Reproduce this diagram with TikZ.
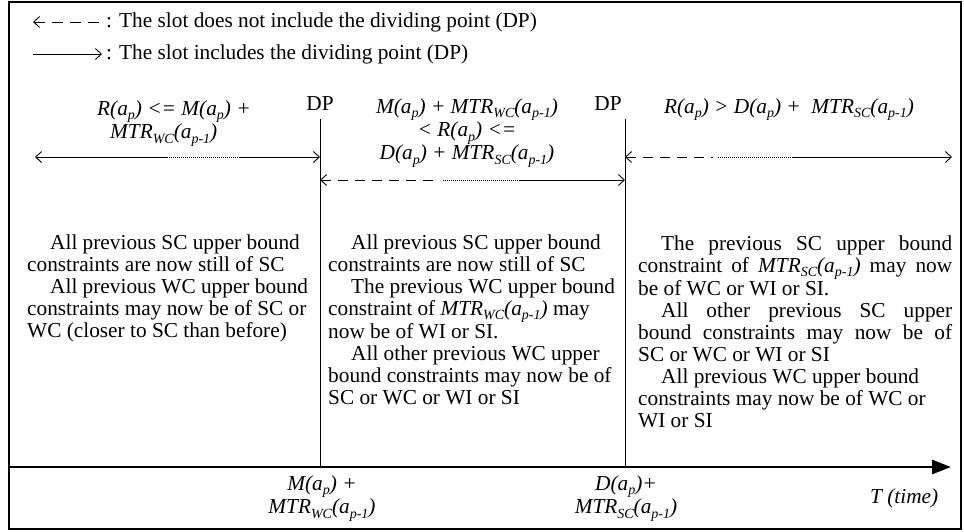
\documentclass[tikz,border=0pt]{standalone}
\usepackage{fontspec}
\setmainfont{Liberation Serif}
\usetikzlibrary{arrows.meta}
\newcommand{\sbs}[1]{\raisebox{-0.22em}{\fontsize{14}{14}\selectfont #1}}
\newcommand{\ap}{a\sbs{p}}
\newcommand{\apm}{a\sbs{p-1}}
\newcommand{\ind}{\hspace*{23pt}}
\newcommand{\jl}[1]{\makebox[\linewidth][s]{#1}}
\begin{document}
\begin{tikzpicture}[x=1pt,y=-1pt,
  every node/.style={inner sep=0pt, font=\fontsize{21.3}{22}\selectfont},
  thinline/.style={line width=0.9pt},
  barbL/.style={thinline, {Straight Barb[length=6pt,width=11pt]}-},
  barbR/.style={thinline, -{Straight Barb[length=6pt,width=11pt]}},
  dashseg/.style={thinline, dash pattern=on 10pt off 7pt},
  dotseg/.style={thinline, dash pattern=on 1pt off 1pt},
  axisline/.style={line width=2.7pt, -{Triangle[length=19pt,width=14pt]}},
  frameline/.style={line width=1.3pt},
  dpline/.style={line width=1pt}]
\useasboundingbox (0,0) rectangle (964,531);
\draw[frameline] (9,2) rectangle (961,529);

% legend
\coordinate (l1a) at (33,22); \coordinate (l1b) at (102,22);
\coordinate (l2a) at (33,54); \coordinate (l2b) at (102,54);
\draw[barbL, dash pattern=on 11pt off 7pt] (l1a) -- (l1b);
\draw[barbR] (l2a) -- (l2b);
\node[anchor=base west] (leg1) at (106,27) {: The slot does not include the dividing point (DP)};
\node[anchor=base west] (leg2) at (106,59) {: The slot includes the dividing point (DP)};

% DP labels and lines
\node[anchor=base] (dp1) at (320,110) {DP};
\node[anchor=base] (dp2) at (608,110) {DP};
\coordinate (v1t) at (320,119); \coordinate (v1b) at (320,467);
\coordinate (v2t) at (625,119); \coordinate (v2b) at (625,467);
\draw[dpline] (v1t) -- (v1b);
\draw[dpline] (v2t) -- (v2b);

% axis
\coordinate (ax0) at (9,467); \coordinate (ax1) at (951,467);
\draw[axisline] (ax0) -- (ax1);

% top annotations
\node[anchor=base west] (ann1) at (97,115) {\parbox[t]{220pt}{\fontsize{21.3}{21.5}\selectfont\raggedright
  \textit{R(\ap) <= M(\ap) +}\\\hspace*{13pt}\textit{MTR\sbs{WC}(\apm)}}};
\node[anchor=base] (ann2) at (467,113) {\parbox[t]{260pt}{\fontsize{21.3}{19.5}\selectfont\centering
  \textit{M(\ap) + MTR\sbs{WC}(\apm)}\\\textit{< R(\ap) <=}\\\textit{D(\ap) + MTR\sbs{SC}(\apm)}}};
\node[anchor=base] (ann3) at (789,113) {\textit{R(\ap) > D(\ap) +\ \ MTR\sbs{SC}(\apm)}};

% slot arrow 1
\coordinate (s1a) at (35,157); \coordinate (s1b) at (167,157);
\coordinate (s1c) at (240,157); \coordinate (s1d) at (320,157);
\draw[barbL] (s1a) -- (s1b);
\draw[dotseg] (s1b) -- (s1c);
\draw[barbR] (s1c) -- (s1d);
% slot arrow 2
\coordinate (s2a) at (320,180); \coordinate (s2b) at (440,180);
\coordinate (s2c) at (443,180); \coordinate (s2d) at (520,180);
\coordinate (s2e) at (625,180);
\draw[barbL, dash pattern=on 10pt off 7pt] (s2a) -- (s2b);
\draw[dotseg] (s2c) -- (s2d);
\draw[barbR] (s2d) -- (s2e);
% slot arrow 3
\coordinate (s3a) at (625,157); \coordinate (s3b) at (713,157);
\coordinate (s3c) at (718,157); \coordinate (s3d) at (793,157);
\coordinate (s3e) at (952,157);
\draw[barbL, dash pattern=on 10pt off 7pt] (s3a) -- (s3b);
\draw[dotseg] (s3c) -- (s3d);
\draw[barbR] (s3d) -- (s3e);

% column texts
\node[anchor=base west] (col1) at (27,249) {\parbox[t]{300pt}{\fontsize{21.3}{22}\selectfont\raggedright
\ind All previous SC upper bound\\
constraints are now still of SC\\
\ind All previous WC upper bound\\
constraints may now be of SC or\\
WC (closer to SC than before)}};

\node[anchor=base west] (col2) at (328,249) {\parbox[t]{296pt}{\fontsize{21.3}{22}\selectfont\raggedright
\ind All previous SC upper bound\\
constraints are now still of SC\\
\ind The previous WC upper bound\\
constraint of \textit{MTR\sbs{WC}(\apm)} may\\
now be of WI or SI.\\
\ind All other previous WC upper\\
bound constraints may now be of\\
SC or WC or WI or SI}};

\node[anchor=base west] (col3) at (638,250) {\parbox[t]{314pt}{\fontsize{21.3}{22}\selectfont\raggedright
\jl{\ind The previous SC upper bound}\\
\jl{constraint of \textit{MTR\sbs{SC}(\apm)} may now}\\
be of WC or WI or SI.\\
\jl{\ind All other previous SC upper}\\
\jl{bound constraints may now be of}\\
SC or WC or WI or SI\\
\ind All previous WC upper bound\\
constraints may now be of WC or\\
WI or SI}};

% bottom labels
\node[anchor=base] (bl1) at (322,490) {\parbox[t]{160pt}{\fontsize{21.3}{22}\selectfont\centering
\textit{M(\ap) +}\\\textit{MTR\sbs{WC}(\apm)}}};
\node[anchor=base] (bl2) at (626,490) {\parbox[t]{160pt}{\fontsize{21.3}{22}\selectfont\centering
\textit{D(\ap)+}\\\textit{MTR\sbs{SC}(\apm)}}};
\node[anchor=base west] (tl) at (870,503) {\textit{T (time)}};
\end{tikzpicture}
\end{document}
